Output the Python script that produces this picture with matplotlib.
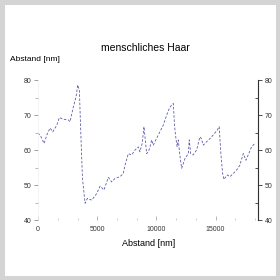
import matplotlib
matplotlib.use("Agg")
import matplotlib.pyplot as plt
from matplotlib.patches import Rectangle
from matplotlib.ticker import MultipleLocator

# profile: distance [nm] vs height [nm]
abstand = [0, 250, 507, 760, 1013, 1240, 1580, 1800, 2140, 2560, 2700, 2985,
           3210, 3350, 3490, 3600, 3750, 3970, 4170, 4530, 4960, 5240, 5570,
           5940, 6220, 6500, 6930, 7200, 7350, 7630, 7910, 8190, 8470, 8610,
           8800, 8950, 9180, 9320, 9460, 9600, 9740, 10160, 10580, 10870,
           11090, 11290, 11430, 11540, 11650, 11750, 11850, 12000, 12140,
           12420, 12700, 12780, 12900, 13100, 13400, 13680, 13800, 13960,
           14250, 14530, 14800, 15150, 15310, 15450, 15600, 15710, 15990,
           16220, 16500, 16780, 17060, 17340, 17570, 17760, 17990, 18180,
           18330]
hoehe = [64.9, 63.8, 61.9, 64.5, 66.3, 65.2, 67.1, 69.3, 68.8, 68.6, 68.1,
         72.4, 75.2, 78.6, 77.1, 66.0, 52.0, 44.8, 46.2, 45.7, 47.6, 49.7,
         48.6, 52.2, 50.9, 51.9, 52.4, 53.3, 55.7, 59.0, 58.6, 60.0, 60.9,
         59.5, 61.9, 66.7, 59.0, 59.5, 60.9, 62.9, 61.4, 64.3, 67.1, 70.0,
         71.9, 72.9, 73.3, 66.7, 63.4, 61.0, 62.9, 58.1, 54.8, 57.6, 59.0,
         62.9, 59.0, 58.6, 60.0, 63.8, 63.3, 61.4, 62.4, 63.3, 64.3, 65.7,
         66.7, 59.0, 53.3, 51.6, 52.9, 52.4, 53.3, 54.3, 55.7, 59.0, 57.1,
         58.6, 60.5, 61.4, 61.9]

titel = "menschliches Haar"
x_label = "Abstand [nm]"
y_label = "Abstand [nm]"

plt.rcParams['font.family'] = ['Liberation Sans', 'DejaVu Sans']

fig = plt.figure(figsize=(2.8, 2.8), dpi=100)
fig.patch.set_facecolor('white')
ax = fig.add_axes([0.136, 0.214, 0.785, 0.5])

ax.plot(abstand, hoehe, color='#5c5ca6', lw=0.6, linestyle=(0, (3, 2)))
ax.set_xlim(0, 18580)
ax.set_ylim(40, 80)

ax.spines['top'].set_visible(False)
ax.spines['bottom'].set_visible(False)
ax.spines['left'].set_color('#f0f0f0')
ax.spines['left'].set_linewidth(0.5)

ax.xaxis.set_major_locator(MultipleLocator(5000))
ax.xaxis.set_minor_locator(MultipleLocator(5000 / 3))
ax.yaxis.set_major_locator(MultipleLocator(10))
ax.yaxis.set_minor_locator(MultipleLocator(5))
ax.tick_params(axis='x', which='major', length=3, width=0.5, color='#999999',
               labelsize=5, pad=4, direction='in', labelcolor='#333333')
ax.tick_params(axis='x', which='minor', length=1.5, width=0.5, color='#bbbbbb',
               direction='in')
ax.tick_params(axis='y', which='major', length=3, width=0.5, color='#777777',
               labelsize=5, pad=2, labelcolor='#333333')
ax.tick_params(axis='y', which='minor', length=2, width=0.5, color='#999999')

# right hand axis, same scale
ax2 = ax.twinx()
ax2.set_ylim(40, 80)
for s in ['top', 'bottom', 'left']:
    ax2.spines[s].set_visible(False)
ax2.spines['right'].set_color('#333333')
ax2.spines['right'].set_linewidth(0.7)
ax2.yaxis.set_major_locator(MultipleLocator(10))
ax2.yaxis.set_minor_locator(MultipleLocator(5))
ax2.tick_params(axis='y', which='major', length=3, width=0.6, color='#333333',
                labelsize=5, pad=2, labelcolor='#333333')
ax2.tick_params(axis='y', which='minor', length=2.5, width=0.6, color='#333333',
                direction='in')

fig.text(0.52, 0.83, titel, ha='center', va='center', fontsize=7.5)
fig.text(0.036, 0.786, y_label, ha='left', va='center', fontsize=6)
fig.text(0.53, 0.132, x_label, ha='center', va='center', fontsize=6.5)

fig.add_artist(Rectangle((0, 0), 1, 1, transform=fig.transFigure, fill=False,
                         edgecolor='#d4d4d4', linewidth=6.5))

fig.savefig("out.png", dpi=100)
